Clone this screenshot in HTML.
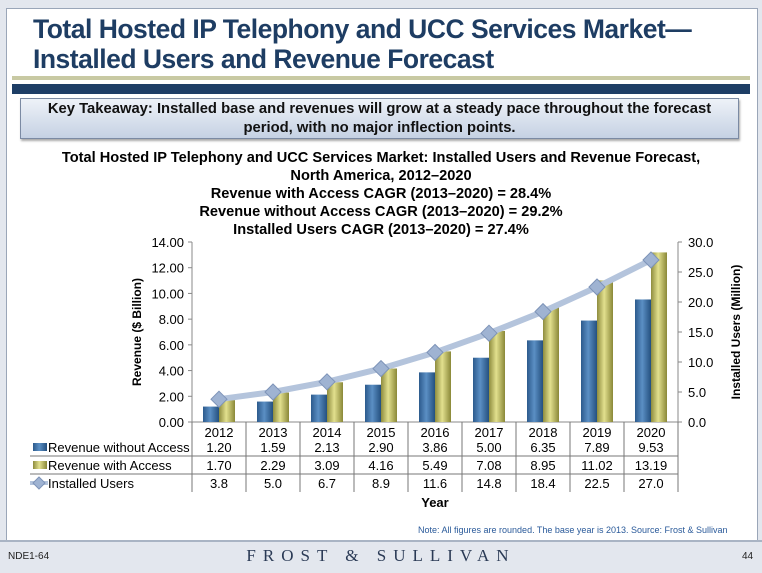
<!DOCTYPE html>
<html><head><meta charset="utf-8"><style>
body{margin:0;width:762px;height:571px;background:#e3e7ee;font-family:"Liberation Sans",Arial,sans-serif;position:relative;overflow:hidden}
#panel{position:absolute;left:6px;top:8px;width:750px;height:532px;background:#fff;border:1px solid #9aa6b8}
#title{position:absolute;left:33px;top:14px;font-size:26.5px;font-weight:bold;color:#1e3d63;line-height:30px;letter-spacing:-0.5px}
#olive{position:absolute;left:12px;top:76px;width:738px;height:4px;background:#c8c9a3}
#navy{position:absolute;left:12px;top:84px;width:738px;height:10px;background:#1e3e66}
#take{position:absolute;left:20px;top:98px;width:719px;height:41px;border:1px solid #7b8aa3;background:linear-gradient(#eef2f8,#c5d1e3);box-shadow:1px 2px 2px #aaa;text-align:center;font-size:14.8px;font-weight:bold;color:#111;line-height:19px;padding-top:1px;box-sizing:border-box;white-space:nowrap}
.ct{position:absolute;left:0;width:762px;text-align:center;font-size:14.6px;font-weight:bold;color:#000;line-height:18px;white-space:nowrap}
#foot{position:absolute;left:0;top:540px;width:762px;height:31px;background:#e3e7ee;border-top:2px solid #a9b4c4}
</style></head><body>
<div id="panel"></div>
<div id="title">Total Hosted IP Telephony and UCC Services Market—<br>Installed Users and Revenue Forecast</div>
<div id="olive"></div>
<div id="navy"></div>
<div id="take">Key Takeaway: Installed base and revenues will grow at a steady pace throughout the forecast<br>period, with no major inflection points.</div>
<div class="ct" style="top:149px">Total Hosted IP Telephony and UCC Services Market: Installed Users and Revenue Forecast,<br>North America, 2012–2020<br>Revenue with Access CAGR (2013–2020) = 28.4%<br>Revenue without Access CAGR (2013–2020) = 29.2%<br>Installed Users CAGR (2013–2020) = 27.4%</div>
<svg id="chart" width="762" height="571" style="position:absolute;left:0;top:0">
<defs>
<linearGradient id="gb" x1="0" x2="1"><stop offset="0" stop-color="#2c5a8c"/><stop offset="0.45" stop-color="#5b8fc4"/><stop offset="1" stop-color="#24507f"/></linearGradient>
<linearGradient id="go" x1="0" x2="1"><stop offset="0" stop-color="#8e8c3e"/><stop offset="0.45" stop-color="#e2e08e"/><stop offset="1" stop-color="#8a8838"/></linearGradient>
</defs>
</svg>
<div id="foot"></div>
<div style="position:absolute;left:418px;top:525px;font-size:9px;color:#2a5a9a">Note: All figures are rounded. The base year is 2013. Source: Frost &amp; Sullivan</div>
<div style="position:absolute;left:8px;top:551px;font-size:10px;color:#222">NDE1-64</div>
<div style="position:absolute;left:0;width:762px;top:546px;text-align:center;font-family:'Liberation Serif',serif;font-size:17px;letter-spacing:7px;color:#2a3a55">FROST &amp; SULLIVAN</div>
<div style="position:absolute;left:742px;top:551px;font-size:10px;color:#222">44</div>
<script>
const years=["2012","2013","2014","2015","2016","2017","2018","2019","2020"];
const revNoAccess=[1.20,1.59,2.13,2.90,3.86,5.00,6.35,7.89,9.53];
const revAccess=[1.70,2.29,3.09,4.16,5.49,7.08,8.95,11.02,13.19];
const users=[3.8,5.0,6.7,8.9,11.6,14.8,18.4,22.5,27.0];
const leftTicks=[0,2,4,6,8,10,12,14];
const rightTicks=[0,5,10,15,20,25,30];
const NS="http://www.w3.org/2000/svg";
const svg=document.getElementById('chart');
const X0=192,X1=678,Y0=422,Y1=242;
const cw=(X1-X0)/years.length;
const yL=v=>Y0-(v/14)*(Y0-Y1);
const yR=v=>Y0-(v/30)*(Y0-Y1);
const xc=i=>X0+cw*(i+0.5);
function el(t,a,txt){const e=document.createElementNS(NS,t);for(const k in a)e.setAttribute(k,a[k]);if(txt!==undefined)e.textContent=txt;svg.appendChild(e);return e;}
let e;
e=el('line',{x1:X0,y1:Y1,x2:X0,y2:Y0,stroke:'#888'});

e=el('line',{x1:X1,y1:Y1,x2:X1,y2:Y0,stroke:'#888'});

e=el('line',{x1:X0,y1:Y0,x2:X1,y2:Y0,stroke:'#888'});

leftTicks.forEach(v=>{
  el('line',{x1:X0-4,y1:yL(v),x2:X0,y2:yL(v),stroke:'#888'});
  e=el('text',{x:X0-8,y:yL(v)+5,'text-anchor':'end','font-size':13,fill:'#000'},v.toFixed(2));
  
});
rightTicks.forEach(v=>{
  el('line',{x1:X1,y1:yR(v),x2:X1+4,y2:yR(v),stroke:'#888'});
  e=el('text',{x:X1+10,y:yR(v)+5,'font-size':13,fill:'#000'},v.toFixed(1));
  
});
e=el('text',{x:0,y:0,transform:`translate(141,${(Y0+Y1)/2}) rotate(-90)`,'text-anchor':'middle','font-size':12,'font-weight':'bold'},'Revenue ($ Billion)');

e=el('text',{x:0,y:0,transform:`translate(740,${(Y0+Y1)/2}) rotate(-90)`,'text-anchor':'middle','font-size':12,'font-weight':'bold'},'Installed Users (Million)');

const bw=16;
years.forEach((y,i)=>{
  e=el('rect',{x:xc(i)-bw,y:yL(revNoAccess[i]),width:bw,height:Y0-yL(revNoAccess[i]),fill:'url(#gb)'});
  
  e=el('rect',{x:xc(i),y:yL(revAccess[i]),width:bw,height:Y0-yL(revAccess[i]),fill:'url(#go)'});
  
});
e=el('polyline',{points:users.map((v,i)=>xc(i)+','+yR(v)).join(' '),fill:'none',stroke:'#b4c4dc','stroke-width':6});

users.forEach((v,i)=>{
  const x=xc(i),y=yR(v);
  e=el('polygon',{points:`${x},${y-8} ${x+8},${y} ${x},${y+8} ${x-8},${y}`,fill:'#9fb3d2',stroke:'#7d93b8'});
  
});
const rows=[revNoAccess.map(v=>v.toFixed(2)),revAccess.map(v=>v.toFixed(2)),users.map(v=>v.toFixed(1))];
const rowY=[447,465,483];
[456,474].forEach(y=>{el('line',{x1:30,y1:y,x2:X1,y2:y,stroke:'#777'});});
for(let i=0;i<=years.length;i++){el('line',{x1:X0+cw*i,y1:Y0,x2:X0+cw*i,y2:492,stroke:'#777'});}
years.forEach((y,i)=>{
  e=el('text',{x:xc(i),y:437,'text-anchor':'middle','font-size':13},y);
  
  rows.forEach((r,j)=>{
    e=el('text',{x:xc(i),y:rowY[j]+5,'text-anchor':'middle','font-size':13},r[i]);
    
  });
});
const names=['Revenue without Access','Revenue with Access','Installed Users'];
names.forEach((n,j)=>{
  const y=rowY[j];
  if(j<2){e=el('rect',{x:33,y:y-4,width:14,height:8,fill:j?'url(#go)':'url(#gb)'});}
  else{el('line',{x1:30,y1:y,x2:48,y2:y,stroke:'#b4c4dc','stroke-width':4});e=el('polygon',{points:`39,${y-6} 45,${y} 39,${y+6} 33,${y}`,fill:'#9fb3d2',stroke:'#7d93b8'});}
  
  e=el('text',{x:48,y:y+5,'font-size':13},n);
  
});
e=el('text',{x:(X0+X1)/2,y:507,'text-anchor':'middle','font-size':13,'font-weight':'bold'},'Year');

</script>
</body></html>
